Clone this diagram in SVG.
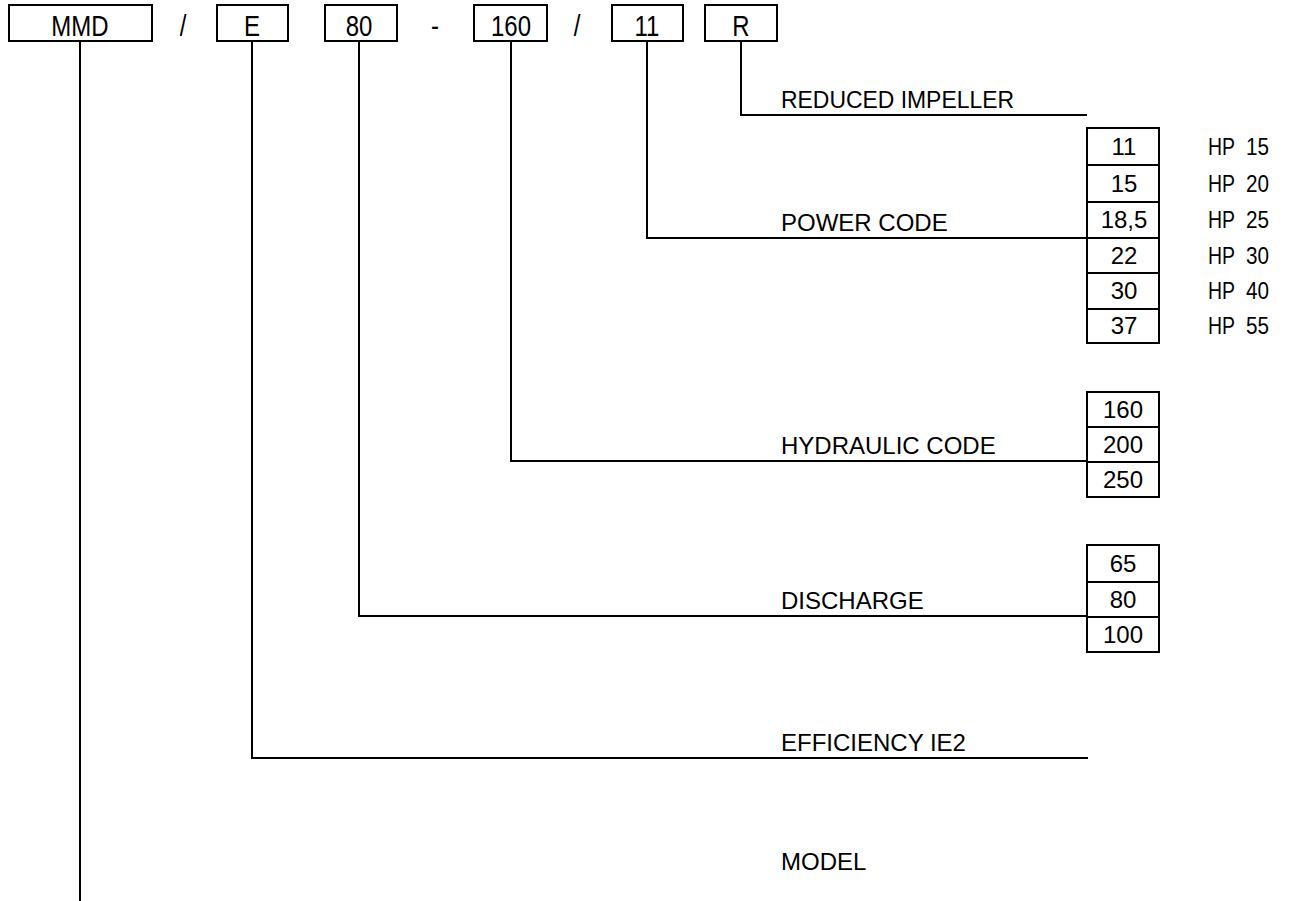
<svg xmlns="http://www.w3.org/2000/svg" width="1302" height="901" viewBox="0 0 1302 901">
<style>
  text { font-family: "Liberation Sans", Arial, sans-serif; font-size: 24px; fill: #000; }
  .c { text-anchor: middle; }
  .box { fill: #fff; stroke: #000; stroke-width: 2; }
  .ln { fill: none; stroke: #000; stroke-width: 2; }
</style>
<rect width="1302" height="901" fill="#fff"/>
<g id="connectors">
  <path class="ln" d="M80,41 V901"/>
  <path class="ln" d="M252,41 V758 H1088"/>
  <path class="ln" d="M359,41 V616 H1087"/>
  <path class="ln" d="M511,41 V461 H1087"/>
  <path class="ln" d="M647,41 V238 H1087"/>
  <path class="ln" d="M741,41 V115 H1087"/>
</g>
<g id="code">
  <g id="n-mmd"><rect class="box" x="9" y="5" width="143" height="36"/><text class="c" x="80" y="30" transform="scale(1,1.2)">MMD</text></g>
  <text class="c" x="183" y="30" transform="scale(1,1.2)">/</text>
  <g id="n-e"><rect class="box" x="217" y="5" width="71" height="36"/><text class="c" x="252" y="30" transform="scale(1,1.2)">E</text></g>
  <g id="n-80"><rect class="box" x="325" y="5" width="72" height="36"/><text class="c" x="359" y="30" transform="scale(1,1.2)">80</text></g>
  <text class="c" x="435" y="30" transform="scale(1,1.2)">-</text>
  <g id="n-160"><rect class="box" x="474" y="5" width="73" height="36"/><text class="c" x="511" y="30" transform="scale(1,1.2)">160</text></g>
  <text class="c" x="577" y="30" transform="scale(1,1.2)">/</text>
  <g id="n-11"><rect class="box" x="612" y="5" width="71" height="36"/><text class="c" x="647" y="30" transform="scale(1,1.2)">11</text></g>
  <g id="n-r"><rect class="box" x="705" y="5" width="72" height="36"/><text class="c" x="741" y="30" transform="scale(1,1.2)">R</text></g>
</g>
<g id="labels">
  <text x="781" y="108" textLength="233" lengthAdjust="spacingAndGlyphs">REDUCED IMPELLER</text>
  <text x="781" y="231">POWER CODE</text>
  <text x="781" y="454">HYDRAULIC CODE</text>
  <text x="781" y="609">DISCHARGE</text>
  <text x="781" y="751">EFFICIENCY IE2</text>
  <text x="781" y="870">MODEL</text>
</g>
<g id="power-table">
  <rect class="box" x="1087" y="128" width="72" height="37"/><text class="c" x="1124" y="155">11</text>
  <rect class="box" x="1087" y="165" width="72" height="37"/><text class="c" x="1124" y="192">15</text>
  <rect class="box" x="1087" y="202" width="72" height="36"/><text class="c" x="1124" y="228">18,5</text>
  <rect class="box" x="1087" y="238" width="72" height="35"/><text class="c" x="1124" y="264">22</text>
  <rect class="box" x="1087" y="273" width="72" height="36"/><text class="c" x="1124" y="299">30</text>
  <rect class="box" x="1087" y="309" width="72" height="34"/><text class="c" x="1124" y="334">37</text>
  <text x="1208" y="155" textLength="27" lengthAdjust="spacingAndGlyphs">HP</text><text x="1246" y="155" textLength="23" lengthAdjust="spacingAndGlyphs">15</text>
  <text x="1208" y="192" textLength="27" lengthAdjust="spacingAndGlyphs">HP</text><text x="1246" y="192" textLength="23" lengthAdjust="spacingAndGlyphs">20</text>
  <text x="1208" y="228" textLength="27" lengthAdjust="spacingAndGlyphs">HP</text><text x="1246" y="228" textLength="23" lengthAdjust="spacingAndGlyphs">25</text>
  <text x="1208" y="264" textLength="27" lengthAdjust="spacingAndGlyphs">HP</text><text x="1246" y="264" textLength="23" lengthAdjust="spacingAndGlyphs">30</text>
  <text x="1208" y="299" textLength="27" lengthAdjust="spacingAndGlyphs">HP</text><text x="1246" y="299" textLength="23" lengthAdjust="spacingAndGlyphs">40</text>
  <text x="1208" y="334" textLength="27" lengthAdjust="spacingAndGlyphs">HP</text><text x="1246" y="334" textLength="23" lengthAdjust="spacingAndGlyphs">55</text>
</g>
<g id="hydraulic-table">
  <rect class="box" x="1087" y="392" width="72" height="35"/><text class="c" x="1123" y="418">160</text>
  <rect class="box" x="1087" y="427" width="72" height="35"/><text class="c" x="1123" y="453">200</text>
  <rect class="box" x="1087" y="462" width="72" height="35"/><text class="c" x="1123" y="488">250</text>
</g>
<g id="discharge-table">
  <rect class="box" x="1087" y="545" width="72" height="37"/><text class="c" x="1123" y="572">65</text>
  <rect class="box" x="1087" y="582" width="72" height="35"/><text class="c" x="1123" y="608">80</text>
  <rect class="box" x="1087" y="617" width="72" height="35"/><text class="c" x="1123" y="643">100</text>
</g>
</svg>
